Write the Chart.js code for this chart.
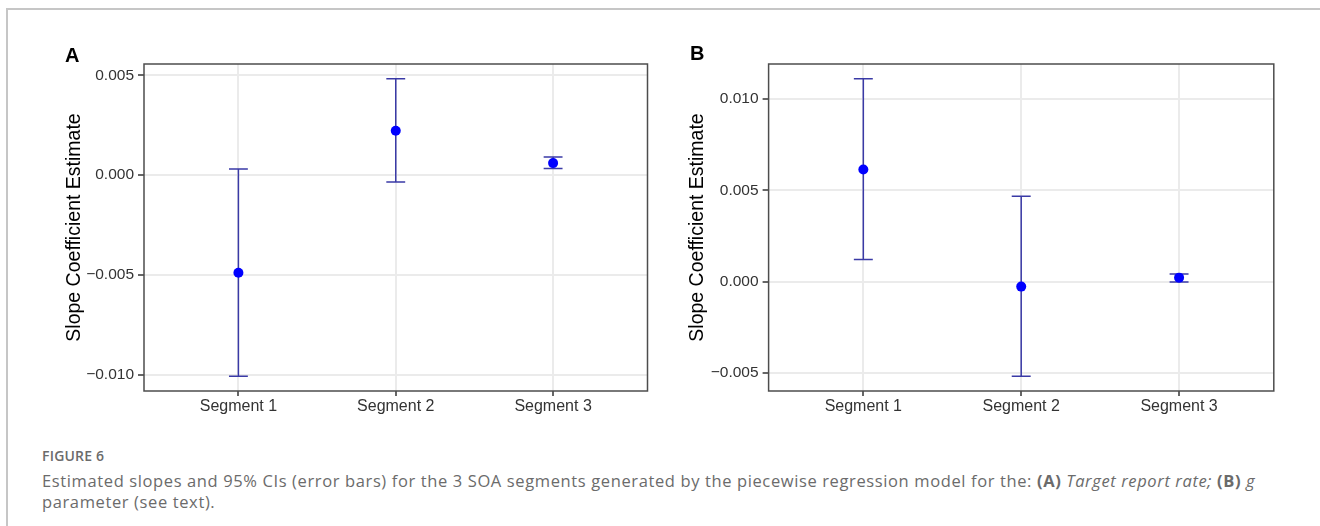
<!DOCTYPE html>
<html>
<head>
<meta charset="utf-8">
<script src="https://cdn.jsdelivr.net/npm/chart.js@4.4.0/dist/chart.umd.min.js"></script>
<style>
  html, body { margin: 0; padding: 0; background: #fff; }
  body { width: 1320px; height: 526px; position: relative; overflow: hidden; font-family: "Liberation Sans", Arial, sans-serif; }
  .frame-top { position: absolute; left: 6px; top: 8px; width: 1314px; border-top: 2px solid #c6c6c6; }
  .frame-left { position: absolute; left: 6px; top: 8px; height: 518px; border-left: 2px solid #c6c6c6; }
  .panel { position: absolute; top: 0; }
  .tag { position: absolute; font-weight: bold; font-size: 20px; line-height: 20px; color: #000; }
  .fig { position: absolute; left: 42px; top: 446px; font-family: "Open Sans", sans-serif; font-weight: 600; font-size: 14px; line-height: 20px; letter-spacing: 0.2px; color: #6b6b6b; }
  .text { position: absolute; left: 42px; top: 470px; font-family: "Open Sans", sans-serif; font-size: 16.5px; line-height: 21px; letter-spacing: 0.62px; color: #6b6b6b; white-space: nowrap; }
</style>
</head>
<body>
<div class="frame-top"></div>
<div class="frame-left"></div>
<canvas id="chartA" class="panel" style="left:0px" width="660" height="430"></canvas>
<canvas id="chartB" class="panel" style="left:660px" width="660" height="430"></canvas>
<div class="tag" style="left:65px; top:45px">A</div>
<div class="tag" style="left:690px; top:43px">B</div>
<div class="fig">FIGURE 6</div>
<div class="text">Estimated slopes and 95% CIs (error bars) for the 3 SOA segments generated by the piecewise regression model for the: <b>(A)</b> <i>Target report rate;</i> <b>(B)</b> <i>g</i><br>parameter (see text).</div>
<script>
const categories = ['Segment 1', 'Segment 2', 'Segment 3'];

// panel A : target report rate
const estA = [-0.00489, 0.00222, 0.00060];
const lowA = [-0.01007, -0.00035, 0.00033];
const highA = [0.00030, 0.00482, 0.00090];
const ticksA = [-0.010, -0.005, 0.000, 0.005];

// panel B : g parameter
const estB = [0.00614, -0.00027, 0.00022];
const lowB = [0.00122, -0.00517, -0.00002];
const highB = [0.01110, 0.00467, 0.00042];
const ticksB = [-0.005, 0.000, 0.005, 0.010];

const fontFam = '"Liberation Sans", Arial, sans-serif';

function fmtTick(v) {
  return v.toFixed(3).replace('-', '\u2212');
}

const errorBars = {
  id: 'errorBars',
  beforeDatasetsDraw(chart, args, opts) {
    const { ctx, chartArea, scales: { x, y } } = chart;
    ctx.save();
    ctx.strokeStyle = '#4d4d4d';
    ctx.lineWidth = 1.5;
    ctx.strokeRect(chartArea.left, chartArea.top, chartArea.right - chartArea.left, chartArea.bottom - chartArea.top);

    ctx.strokeStyle = opts.color;
    ctx.lineWidth = 1.5;
    opts.low.forEach((lo, i) => {
      const cx = x.getPixelForValue(i + 1);
      const half = x.getPixelForValue(i + 1 + opts.capWidth / 2) - cx;
      const yl = y.getPixelForValue(lo);
      const yh = y.getPixelForValue(opts.high[i]);
      ctx.beginPath();
      ctx.moveTo(cx, yh); ctx.lineTo(cx, yl);
      ctx.moveTo(cx - half, yh); ctx.lineTo(cx + half, yh);
      ctx.moveTo(cx - half, yl); ctx.lineTo(cx + half, yl);
      ctx.stroke();
    });
    ctx.restore();
  }
};

function makePanel(id, est, low, high, ticks, box) {
  const lo = Math.min(...low), hi = Math.max(...high);
  const pad = (hi - lo) * 0.05;

  return new Chart(document.getElementById(id), {
    type: 'scatter',
    data: {
      datasets: [{
        data: est.map((v, i) => ({ x: i + 1, y: v })),
        backgroundColor: '#0000ff',
        borderColor: '#0000ff',
        pointRadius: 5,
        pointBorderWidth: 0
      }]
    },
    options: {
      responsive: false,
      animation: false,
      devicePixelRatio: 1,
      layout: { padding: { left: 0, top: box.top, right: box.right, bottom: 0 } },
      plugins: {
        legend: { display: false },
        tooltip: { enabled: false },
        errorBars: { low: low, high: high, color: '#3a3aa6', capWidth: 0.12 }
      },
      scales: {
        x: {
          type: 'linear',
          min: 0.4,
          max: 3.6,
          afterBuildTicks: s => { s.ticks = categories.map((c, i) => ({ value: i + 1 })); },
          afterFit: s => { s.height = 39; },
          border: { display: false },
          grid: { color: '#ebebeb', lineWidth: 2, tickColor: '#333', tickWidth: 1.5, tickLength: 5 },
          ticks: {
            callback: (v, i) => categories[i],
            font: { family: fontFam, size: 16 },
            color: '#333',
            padding: 1,
            maxRotation: 0,
            autoSkip: false
          }
        },
        y: {
          min: lo - pad,
          max: hi + pad,
          afterBuildTicks: s => { s.ticks = ticks.map(v => ({ value: v })); },
          afterFit: s => { s.width = box.left; },
          border: { display: false },
          grid: { color: '#ebebeb', lineWidth: 2, tickColor: '#333', tickWidth: 1.5, tickLength: 6 },
          ticks: {
            callback: v => fmtTick(v),
            font: { family: fontFam, size: 15.5 },
            color: '#333',
            padding: 4
          },
          title: {
            display: true,
            text: 'Slope Coefficient Estimate',
            font: { family: fontFam, size: 19.5 },
            color: '#000',
            padding: { top: box.title, bottom: 0 }
          }
        }
      }
    },
    plugins: [errorBars]
  });
}

makePanel('chartA', estA, lowA, highA, ticksA, { left: 144, right: 12.5, top: 64, title: 63 });
makePanel('chartB', estB, lowB, highB, ticksB, { left: 108.6, right: 46.2, top: 64, title: 26 });
</script>
</body>
</html>
